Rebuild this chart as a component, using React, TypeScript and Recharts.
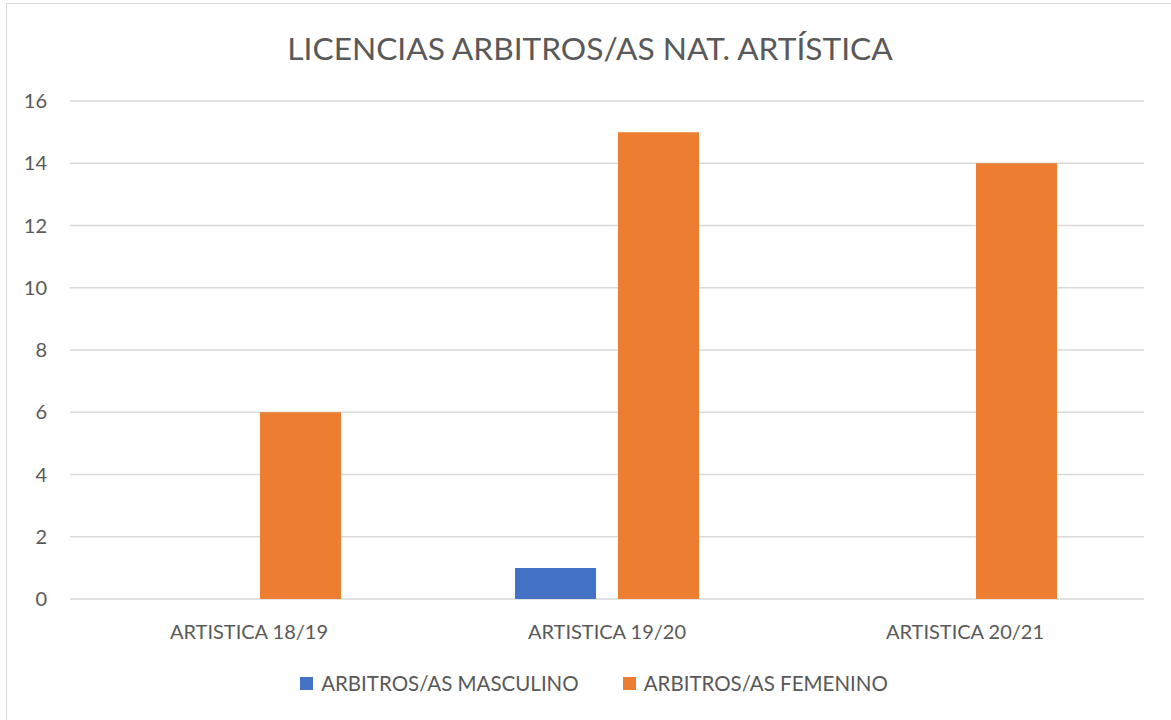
import React from 'react';
import { BarChart, Bar, XAxis, YAxis, CartesianGrid, Legend } from 'recharts';

const categories = ['ARTISTICA 18/19', 'ARTISTICA 19/20', 'ARTISTICA 20/21'];
const masculino = [0, 1, 0];
const femenino = [6, 15, 14];
const yTicks = [0, 2, 4, 6, 8, 10, 12, 14, 16];

const seriesNames = ['ARBITROS/AS MASCULINO', 'ARBITROS/AS FEMENINO'];
const seriesColors = ['#4472C4', '#ED7D31'];

const data = categories.map((name, i) => ({
  name,
  masculino: masculino[i],
  femenino: femenino[i],
}));

const FONT = 'Lato, "Open Sans", sans-serif';
const TEXT = '#595959';

// legend drawn like the Excel one: small squares + grey caps text
const LegendContent = () => (
  <div
    style={{
      display: 'flex', justifyContent: 'center', gap: 44, paddingTop: 21, paddingLeft: 44,
      fontFamily: FONT, fontSize: 20.5, color: TEXT, lineHeight: '24px',
    }}
  >
    {seriesNames.map((n, i) => (
      <div key={n} style={{ display: 'flex', alignItems: 'center' }}>
        <span style={{ width: 13, height: 13, background: seriesColors[i], display: 'inline-block', marginRight: 8 }} />
        <span>{n}</span>
      </div>
    ))}
  </div>
);

const App = () => {
  return (
    <div style={{ position: 'relative', width: 1171, height: 720, overflow: 'hidden', background: '#fff' }}>
      <style>{'body{margin:0}'}</style>
      <div
        style={{
          position: 'absolute', left: 6, top: 3, width: 1170, height: 730,
          border: '1px solid #d9d9d9', boxSizing: 'border-box',
        }}
      />
      <div
        style={{
          position: 'absolute', top: 28, left: 0, width: 1180, textAlign: 'center',
          fontFamily: FONT, fontSize: 31.7, color: TEXT, lineHeight: '40px',
        }}
      >
        LICENCIAS ARBITROS/AS NAT. ARTÍSTICA
      </div>
      <BarChart
        width={1171}
        height={720}
        data={data}
        margin={{ top: 101, right: 27, left: 0, bottom: 20 }}
        barSize={81}
        barGap={22}
        style={{ position: 'absolute', top: 0, left: 0 }}
      >
        <CartesianGrid vertical={false} stroke="#d9d9d9" strokeWidth={1.3} />
        <XAxis
          dataKey="name"
          axisLine={false}
          tickLine={false}
          tickSize={0}
          tickMargin={26}
          height={51}
          tick={{ fontSize: 20, fill: TEXT, fontFamily: FONT }}
        />
        <YAxis
          domain={[0, 16]}
          ticks={yTicks}
          axisLine={false}
          tickLine={false}
          tickSize={0}
          tickMargin={23}
          width={70}
          tick={{ fontSize: 20, fill: TEXT, fontFamily: FONT }}
        />
        <Legend verticalAlign="bottom" height={50} content={<LegendContent />} />
        <Bar dataKey="masculino" name={seriesNames[0]} fill={seriesColors[0]} isAnimationActive={false} />
        <Bar dataKey="femenino" name={seriesNames[1]} fill={seriesColors[1]} isAnimationActive={false} />
      </BarChart>
    </div>
  );
};

export default App;
